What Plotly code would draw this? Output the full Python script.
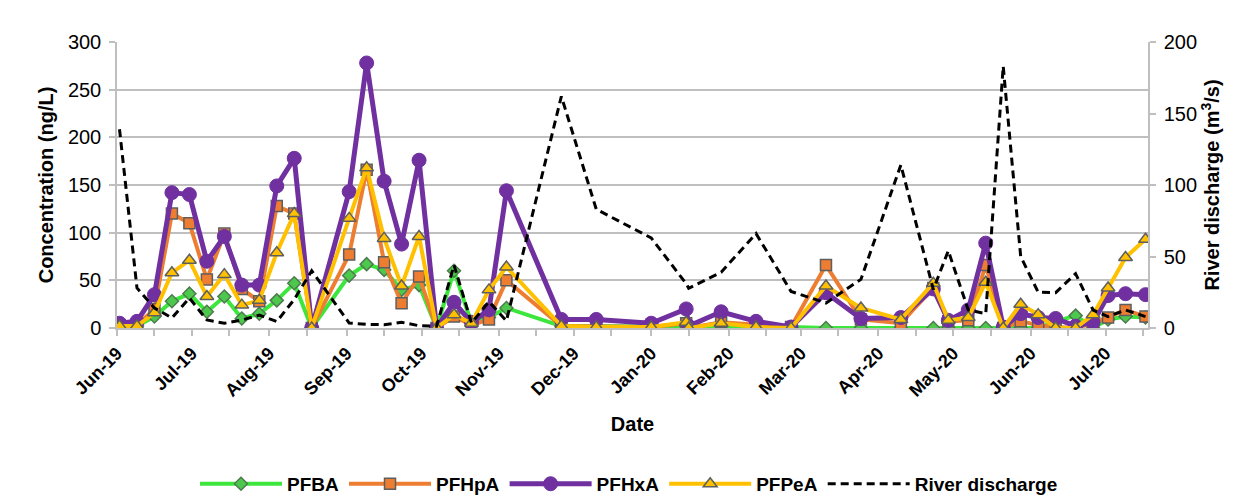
import pandas as pd
import plotly.graph_objects as go
from plotly.subplots import make_subplots

dates = ["2019-06-02", "2019-06-09", "2019-06-16", "2019-06-23", "2019-06-30",
         "2019-07-07", "2019-07-14", "2019-07-21", "2019-07-28", "2019-08-04",
         "2019-08-11", "2019-08-18", "2019-09-02", "2019-09-09", "2019-09-16",
         "2019-09-23", "2019-09-30", "2019-10-07", "2019-10-14", "2019-10-21",
         "2019-10-28", "2019-11-04", "2019-11-26", "2019-12-10", "2020-01-01",
         "2020-01-15", "2020-01-16", "2020-01-29", "2020-02-12", "2020-02-26",
         "2020-03-11", "2020-03-25", "2020-04-10", "2020-04-23", "2020-04-29",
         "2020-05-07", "2020-05-14", "2020-05-21", "2020-05-28", "2020-06-04",
         "2020-06-11", "2020-06-19", "2020-06-26", "2020-07-02", "2020-07-09",
         "2020-07-17"]

pfba = [2, 2, 12, 28, 36, 17, 33, 10, 15, 29, 47, 0, 55, 67, 61, 40, 45, 0, 60, 5,
        11, 21, 2, 2, 2, 2, 2, 2, 2, 1, 0, 0, 0, 0, 0, 0, 0, 0, 0, 0, 7, 13, 0, 9, 12, 11]
pfhpa = [3, 3, 20, 120, 110, 51, 99, 41, 28, 128, 120, 0, 77, 166, 69, 26, 54, 0, 12, 3,
         9, 50, 2, 2, 1, 5, 0, 6, 3, 1, 66, 9, 5, 42, 7, 8, 66, 0, 7, 3, 1, 0, 5, 11, 19, 12]
pfhxa = [5, 7, 35, 142, 140, 70, 96, 45, 45, 149, 178, 0, 143, 278, 154, 88, 176, 0, 27, 6,
         19, 144, 9, 9, 5, 20, 2, 17, 7, 1, 37, 10, 11, 41, 8, 19, 89, 1, 15, 11, 10, 2, 6, 34, 36, 35]
pfpea = [2, 2, 16, 58, 71, 33, 56, 24, 29, 79, 120, 0, 115, 168, 94, 44, 96, 0, 14, 5,
         40, 64, 2, 1, 1, 6, 0, 5, 1, 0, 44, 21, 9, 47, 8, 11, 48, 0, 25, 14, 0, 0, 14, 42, 74, 93]
discharge = [139, 28, 14, 7, 21, 5.6, 3.3, 5.6, 9, 4.5, 20, 40, 3.5, 2.5, 2.3, 4, 1.6, 1.2, 44, 3.5,
             18.4, 5, 162, 83, 63, 31, 27.8, 39, 66, 25.6, 17.5, 34, 114, 27, 54, 12.6, 10, 183, 50, 25,
             24.7, 38, 12.6, 8, 12.6, 8]

FONT = "Liberation Sans, Arial, sans-serif"
GRID = "#BFBFBF"
OUTLINE = "#5E5E5E"

fig = make_subplots(specs=[[{"secondary_y": True}]])

fig.add_trace(go.Scatter(x=dates, y=pfba, name="PFBA", mode="lines+markers",
                         line=dict(color="#3CE63C", width=4),
                         marker=dict(symbol="diamond", size=10, color="#4CC94C",
                                     line=dict(color="#4F7A4F", width=1.5))),
              secondary_y=False)
fig.add_trace(go.Scatter(x=dates, y=pfhpa, name="PFHpA", mode="lines+markers",
                         line=dict(color="#ED7D31", width=4),
                         marker=dict(symbol="square", size=11, color="#ED7D31",
                                     line=dict(color=OUTLINE, width=1.5))),
              secondary_y=False)
fig.add_trace(go.Scatter(x=dates, y=pfhxa, name="PFHxA", mode="lines+markers",
                         line=dict(color="#7030A0", width=5),
                         marker=dict(symbol="circle", size=14, color="#7030A0",
                                     line=dict(color="#7030A0", width=1))),
              secondary_y=False)
fig.add_trace(go.Scatter(x=dates, y=pfpea, name="PFPeA", mode="lines+markers",
                         line=dict(color="#FFC000", width=4),
                         marker=dict(symbol="triangle-up", size=12, color="#FFC000",
                                     line=dict(color=OUTLINE, width=1.5))),
              secondary_y=False)
fig.add_trace(go.Scatter(x=dates, y=discharge, name="River discharge", mode="lines",
                         line=dict(color="black", width=3, dash="8px,5px")),
              secondary_y=True)

minor_ticks = [d + pd.Timedelta(days=15) for d in pd.date_range("2019-06-01", "2020-07-01", freq="MS")]

fig.update_xaxes(
    domain=[0, 1],
    type="date", range=["2019-06-01", "2020-07-18"], automargin=False,
    tick0="2019-06-01", dtick="M1", tickformat="%b-%y", tickangle=-45,
    tickfont=dict(family=FONT, size=18, color="black", weight="bold"),
    ticks="outside", ticklen=6, tickcolor=GRID, tickwidth=1.5,
    showline=True, linecolor=GRID, linewidth=1.5, showgrid=False, zeroline=False,
    minor=dict(tickmode="array", tickvals=minor_ticks, ticks="outside", ticklen=6,
               tickcolor=GRID, tickwidth=1.5, showgrid=False),
    title=dict(text="Date", font=dict(family=FONT, size=20, color="black", weight="bold"), standoff=17),
)
fig.update_yaxes(
    range=[0, 300], dtick=50, tick0=0, automargin=False,
    tickfont=dict(family=FONT, size=20, color="black"), ticklabelstandoff=4,
    ticks="outside", ticklen=6, tickcolor=GRID, tickwidth=1.5,
    showline=True, linecolor=GRID, linewidth=1.5,
    showgrid=True, gridcolor=GRID, gridwidth=1.5, zeroline=False,
    title=dict(text="Concentration (ng/L)", font=dict(family=FONT, size=20, color="black", weight="bold"), standoff=9),
    secondary_y=False,
)
fig.update_yaxes(
    range=[0, 200], dtick=50, tick0=0, automargin=False,
    tickfont=dict(family=FONT, size=20, color="black"), ticklabelstandoff=4,
    ticks="outside", ticklen=6, tickcolor=GRID, tickwidth=1.5,
    showline=True, linecolor=GRID, linewidth=1.5,
    showgrid=False, zeroline=False,
    title=dict(text="River discharge (m<sup>3</sup>/s)", font=dict(family=FONT, size=20, color="black", weight="bold"), standoff=9),
    secondary_y=True,
)

fig.update_layout(
    width=1237, height=496,
    margin=dict(l=117, r=89, t=42, b=168, autoexpand=False),
    paper_bgcolor="white", plot_bgcolor="white",
    font=dict(family=FONT, color="black"),
    legend=dict(orientation="h", x=(195 - 117) / 1031, xanchor="left", y=-0.545, yanchor="middle",
                font=dict(family=FONT, size=19, color="black", weight="bold"),
                itemwidth=82, traceorder="normal"),
)

fig.write_html("out.html")
